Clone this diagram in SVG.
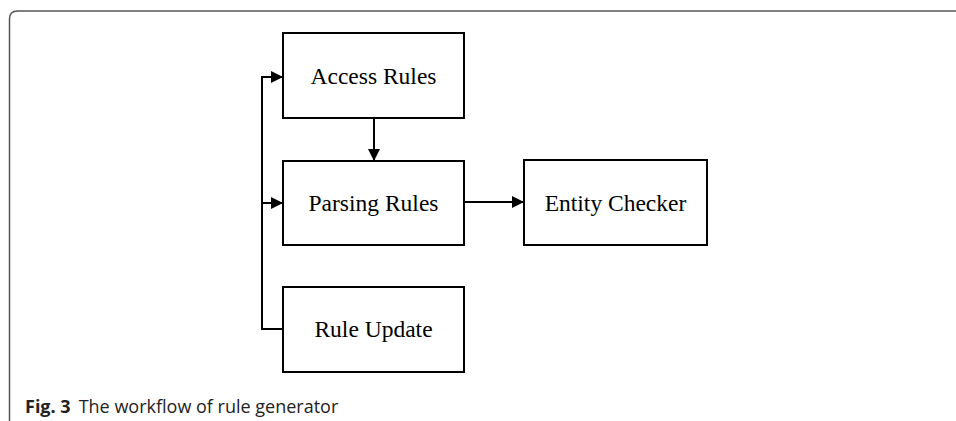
<svg xmlns="http://www.w3.org/2000/svg" width="956" height="421" viewBox="0 0 956 421">
<style>
.box{fill:#fff;stroke:#000;stroke-width:2}
.lbl{font-family:"Liberation Serif","Times New Roman",serif;font-size:23.5px;fill:#000;text-anchor:middle}
.con{fill:none;stroke:#000;stroke-width:2}
.cap{font-family:"Open Sans","Noto Sans",sans-serif;font-size:18px;fill:#222}
</style>
<defs>
<marker id="ah" viewBox="0 0 12 12" refX="12" refY="6" markerWidth="12" markerHeight="12" markerUnits="userSpaceOnUse" orient="auto">
<path d="M0,0 L12,6 L0,12 z" fill="#000"/>
</marker>
</defs>
<rect width="956" height="421" fill="#fff"/>
<path d="M9.5 421 V19 Q9.5 11 17.5 11 H956" fill="none" stroke="#555" stroke-width="1.5"/>
<g id="connectors">
<path class="con" d="M374 118 V161" marker-end="url(#ah)"/>
<path class="con" d="M464 202 H524" marker-end="url(#ah)"/>
<path class="con" d="M283 329 H262 V77 H283" marker-end="url(#ah)"/>
<path class="con" d="M262 203 H283" marker-end="url(#ah)"/>
</g>
<g id="access-rules">
<rect class="box" x="283" y="33" width="181" height="85"/>
<text class="lbl" x="373.5" y="83.5">Access Rules</text>
</g>
<g id="parsing-rules">
<rect class="box" x="283" y="161" width="181" height="84"/>
<text class="lbl" x="373.5" y="211">Parsing Rules</text>
</g>
<g id="rule-update">
<rect class="box" x="283" y="287" width="181" height="85"/>
<text class="lbl" x="373.5" y="337">Rule Update</text>
</g>
<g id="entity-checker">
<rect class="box" x="524" y="160" width="183" height="85"/>
<text class="lbl" x="615.5" y="210.5">Entity Checker</text>
</g>
<text class="cap" x="25" y="413"><tspan font-weight="bold">Fig. 3</tspan><tspan dx="8">The workflow of rule generator</tspan></text>
</svg>
